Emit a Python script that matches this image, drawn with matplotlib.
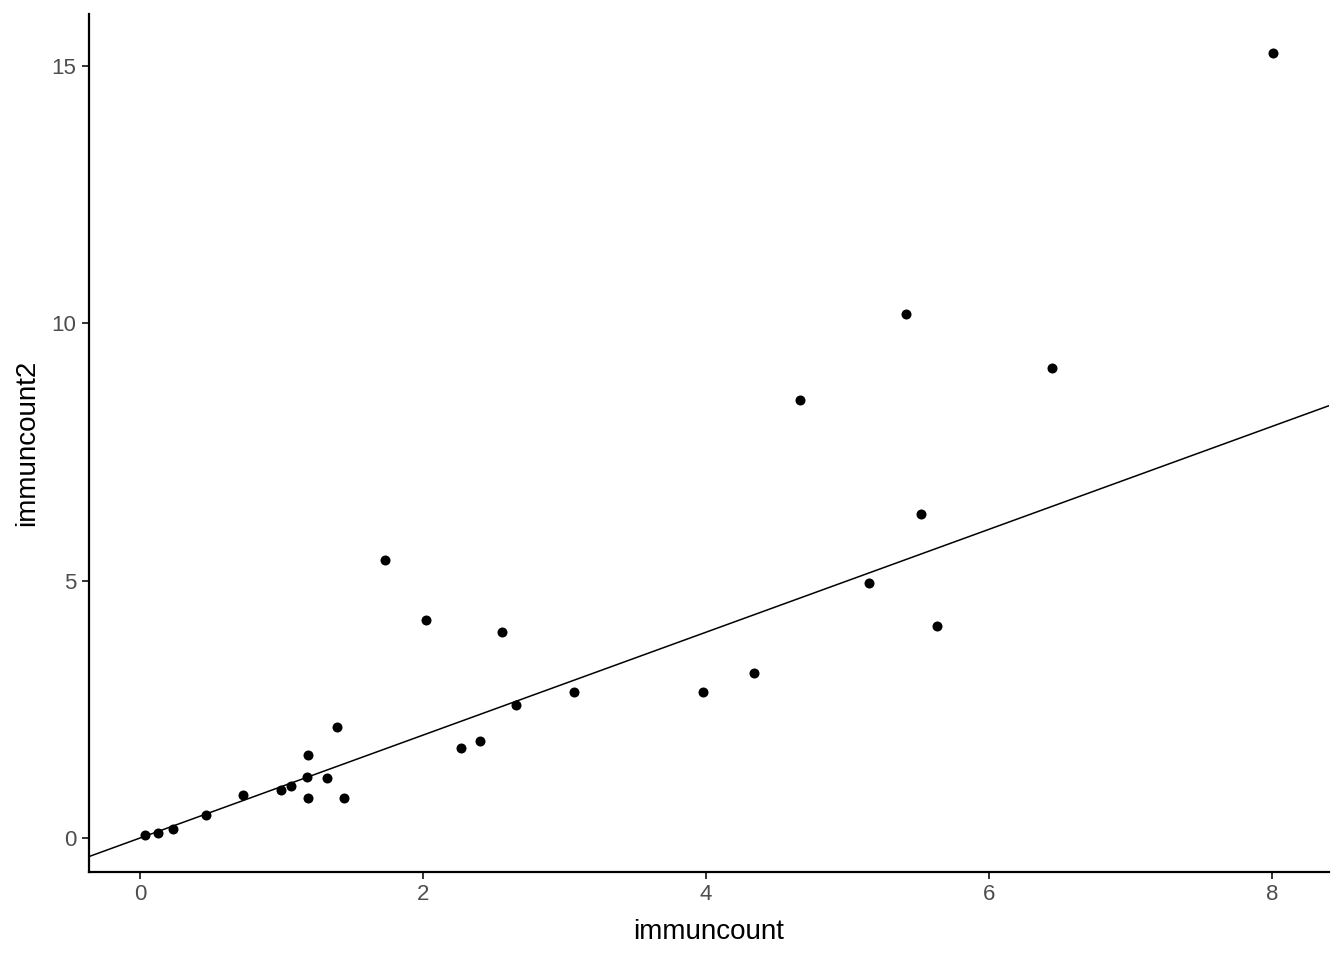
import matplotlib
matplotlib.use("Agg")
import matplotlib.pyplot as plt
import numpy as np

plt.rcParams['font.family'] = ['Liberation Sans', 'DejaVu Sans']

immuncount = [0.033, 0.127, 0.231, 0.466, 0.726, 0.994, 1.065, 1.178, 1.187, 1.187,
               1.319, 1.390, 1.439, 1.729, 2.019, 2.266, 2.401, 2.556, 2.655, 3.065,
               3.979, 4.339, 4.664, 5.152, 5.413, 5.519, 5.633, 6.445, 8.007]
immuncount2 = [0.064, 0.10, 0.17, 0.45, 0.84, 0.93, 1.02, 1.19, 1.61, 0.78,
               1.17, 2.15, 0.78, 5.41, 4.23, 1.74, 1.89, 4.01, 2.59, 2.83,
               2.84, 3.21, 8.52, 4.96, 10.18, 6.30, 4.11, 9.14, 15.25]
x_ticks = [0, 2, 4, 6, 8]
y_ticks = [0, 5, 10, 15]
abline_intercept = 0
abline_slope = 1

fig = plt.figure(figsize=(13.44, 9.6), dpi=100)
ax = fig.add_axes([89/1344, 1-872/960, (1329-89)/1344, (872-14)/960])

ax.scatter(immuncount, immuncount2, s=52, color='black', linewidths=0, zorder=3)

xlim = (-0.36, 8.40)
ylim = (-0.66, 16.01)
xs = np.array(xlim)
ax.plot(xs, abline_intercept + abline_slope * xs, color='black', lw=1.1, zorder=2)
ax.set_xlim(*xlim)
ax.set_ylim(*ylim)

ax.set_xticks(x_ticks)
ax.set_yticks(y_ticks)
ax.tick_params(axis='both', colors='#333333', length=5, width=1.4, labelsize=16,
               labelcolor='#4D4D4D', pad=4)
for side in ['top', 'right']:
    ax.spines[side].set_visible(False)
for side in ['left', 'bottom']:
    ax.spines[side].set_linewidth(1.6)
    ax.spines[side].set_color('black')

ax.set_xlabel('immuncount', fontsize=20, color='black', labelpad=10)
ax.set_ylabel('immuncount2', fontsize=20, color='black', labelpad=8)

fig.savefig('out.png', dpi=100, facecolor='white')
